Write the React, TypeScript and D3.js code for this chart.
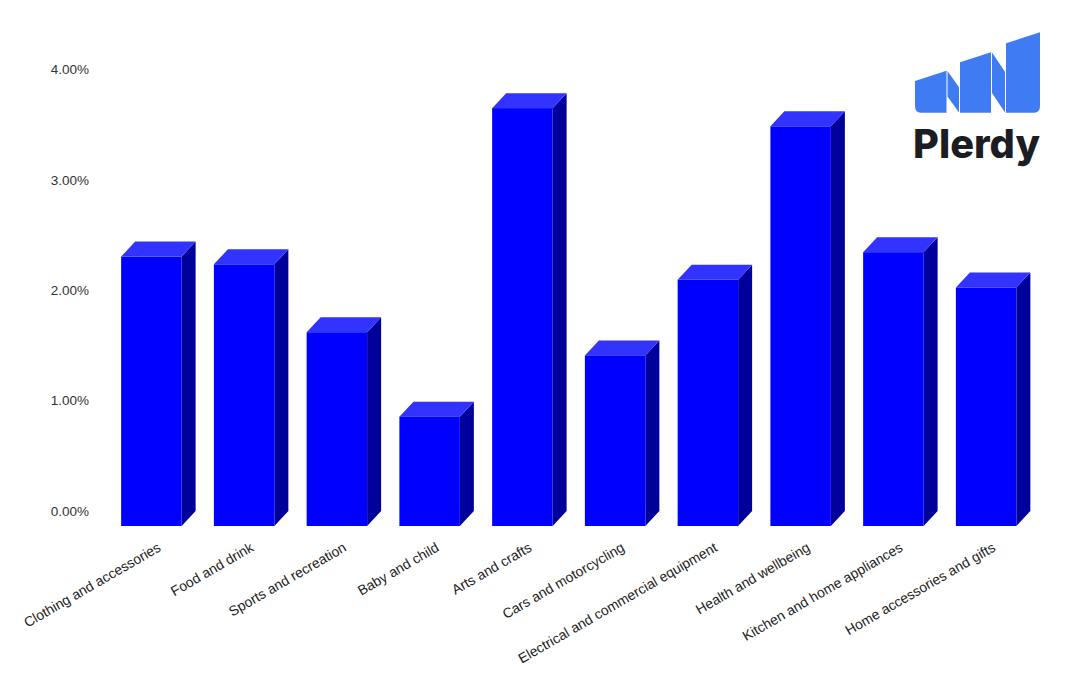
import { useRef, useEffect } from 'react';
import * as d3 from 'd3';

const WIDTH = 1074;
const HEIGHT = 678;

const categories = [
  'Clothing and accessories',
  'Food and drink',
  'Sports and recreation',
  'Baby and child',
  'Arts and crafts',
  'Cars and motorcycling',
  'Electrical and commercial equipment',
  'Health and wellbeing',
  'Kitchen and home appliances',
  'Home accessories and gifts',
];
const values = [2.44, 2.37, 1.755, 0.99, 3.785, 1.545, 2.23, 3.62, 2.48, 2.16];
const yTicks = [0, 1, 2, 3, 4];

const DEPTH_X = 14;
const DEPTH_Y = 15;
const BASELINE = 526;
const UNIT = 110.4;

export default function App() {
  const svgRef = useRef<SVGSVGElement>(null);

  useEffect(() => {
    if (!svgRef.current) return;
    const svg = d3.select(svgRef.current);
    svg.selectAll('*').remove();

    const x = d3.scaleBand<string>()
      .domain(categories)
      .range([105, 1032.5])
      .paddingInner(0.348)
      .paddingOuter(0.174);
    const y = d3.scaleLinear().domain([0, 4]).range([BASELINE, BASELINE - 4 * UNIT]);

    // Tick labels sit on the back wall, so they are shifted up by the depth
    svg.append('g')
      .selectAll('text')
      .data(yTicks)
      .enter()
      .append('text')
      .attr('x', 89)
      .attr('y', d => y(d) - DEPTH_Y)
      .attr('dy', '0.35em')
      .attr('text-anchor', 'end')
      .attr('font-family', '"Liberation Sans", Arial, sans-serif')
      .attr('font-size', '13.5px')
      .attr('fill', '#333')
      .text(d => d.toFixed(2) + '%');

    const bars = svg.append('g')
      .selectAll('g')
      .data(categories)
      .enter()
      .append('g');

    const w = x.bandwidth();
    const val = (i: number) => y(values[i]);

    // side face
    bars.append('path')
      .attr('fill', '#00009b')
      .attr('d', (d, i) => {
        const x1 = (x(d) ?? 0) + w;
        return `M${x1},${val(i)}L${x1 + DEPTH_X},${val(i) - DEPTH_Y}L${x1 + DEPTH_X},${BASELINE - DEPTH_Y}L${x1},${BASELINE}Z`;
      });

    // top face
    bars.append('path')
      .attr('fill', '#3333ff')
      .attr('d', (d, i) => {
        const x0 = x(d) ?? 0;
        return `M${x0},${val(i)}L${x0 + DEPTH_X},${val(i) - DEPTH_Y}L${x0 + w + DEPTH_X},${val(i) - DEPTH_Y}L${x0 + w},${val(i)}Z`;
      });

    // front face
    bars.append('rect')
      .attr('fill', '#0000ff')
      .attr('x', d => x(d) ?? 0)
      .attr('y', (d, i) => val(i))
      .attr('width', w)
      .attr('height', (d, i) => BASELINE - val(i));

    // Category labels, rotated and ending under each bar
    svg.append('g')
      .selectAll('text')
      .data(categories)
      .enter()
      .append('text')
      .attr('transform', d => `translate(${(x(d) ?? 0) + w / 2 + 8},${BASELINE + 20}) rotate(-30)`)
      .attr('text-anchor', 'end')
      .attr('dy', '0.35em')
      .attr('font-family', '"Liberation Sans", Arial, sans-serif')
      .attr('font-size', '13.9px')
      .attr('fill', '#222')
      .text(d => d);

    // Plerdy logo
    const logo = svg.append('g');
    const logoBlocks = [
      'M915,81L946.5,70.7V112.7H921Q915,112.7 915,106Z',
      'M947.5,71L959,87.3V112.5L947.5,96.5Z',
      'M960,62.3L991,52.3V112.7H960Z',
      'M992,52.5L1005,71.7V112.5L992,93Z',
      'M1006,43.3L1040,32.3V106Q1040,112.7 1034,112.7H1006Z',
    ];
    logo.selectAll('path')
      .data(logoBlocks)
      .enter()
      .append('path')
      .attr('d', d => d)
      .attr('fill', '#3f7cf4');
    logo.append('text')
      .attr('x', 913)
      .attr('y', 158)
      .attr('font-family', 'Inter, "Noto Sans", sans-serif')
      .attr('font-weight', 800)
      .attr('font-size', '40px')
      .attr('textLength', 127)
      .attr('lengthAdjust', 'spacingAndGlyphs')
      .attr('fill', '#1b1d22')
      .text('Plerdy');
  }, []);

  return (
    <div style={{ position: 'absolute', left: 0, top: 0 }}>
      <svg ref={svgRef} width={WIDTH} height={HEIGHT} style={{ display: 'block', background: '#fff' }} />
    </div>
  );
}
